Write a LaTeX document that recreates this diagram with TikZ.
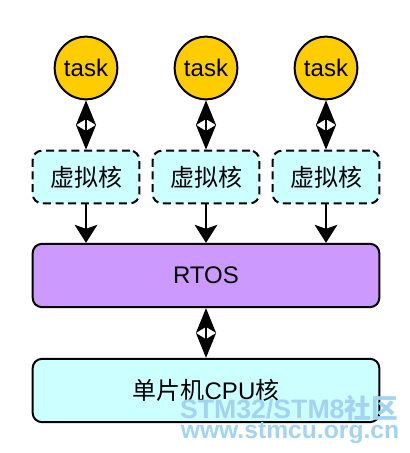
\documentclass[tikz,border=0pt]{standalone}
\usepackage{fontspec}
\setmainfont{Liberation Sans}
\newfontfamily\cjk{Noto Sans CJK SC}
\usetikzlibrary{arrows.meta}

\definecolor{taskyellow}{RGB}{255,204,0}
\definecolor{kernelcyan}{RGB}{204,255,255}
\definecolor{rtoslilac}{RGB}{204,153,255}
\definecolor{markblue}{RGB}{160,212,240}

\begin{document}
\begin{tikzpicture}[x=0.75pt, y=-0.75pt,
					task circle/.style={draw, line width=1.5pt, circle, fill=taskyellow, minimum size=47pt, inner sep=0pt, font=\fontsize{18}{20}\selectfont},
					vk box/.style={draw, line width=1.5pt, dash pattern=on 6pt off 3.5pt, rounded corners=7pt, fill=kernelcyan, minimum width=80pt, minimum height=39.5pt, font=\fontsize{18}{20}\selectfont\cjk},
					layer box/.style={draw, line width=1.5pt, rounded corners=7pt, minimum width=260pt, minimum height=47.5pt, font=\fontsize{18}{20}\selectfont},
					link/.style={line width=1.5pt, -{Stealth[length=13.5pt, width=17pt, inset=3pt]}},
					duplex/.style={line width=1.5pt, {Stealth[length=18.5pt, width=15pt, inset=4.5pt]}-{Stealth[length=18.5pt, width=15pt, inset=4.5pt]}},
					watermark/.style={text=markblue, font=\fontsize{20}{22}\selectfont\bfseries, anchor=base},
				]
					\useasboundingbox (0,0) rectangle (410,453);

					\node[task circle] (task1) at (86,68) {task};
					\node[task circle] (task2) at (206,68) {task};
					\node[task circle] (task3) at (326,68) {task};

					\node[vk box] (vk1) at (86,177) {虚拟核};
					\node[vk box] (vk2) at (206,177) {虚拟核};
					\node[vk box] (vk3) at (326,177) {虚拟核};

					\node[layer box, fill=rtoslilac] (rtos) at (206,275.5) {RTOS};
					\node[layer box, fill=kernelcyan] (cpu) at (206,390.5) {{\cjk 单片机}CPU{\cjk 核}};

					\draw[duplex] (task1) -- (vk1);
					\draw[duplex] (task2) -- (vk2);
					\draw[duplex] (task3) -- (vk3);

					\draw[link] (vk1) -- (vk1 |- rtos.north);
					\draw[link] (vk2) -- (vk2 |- rtos.north);
					\draw[link] (vk3) -- (vk3 |- rtos.north);

					\draw[duplex] (rtos) -- (cpu);

					\node[watermark] (mark1) at (289,418) {STM32/STM8{\cjk 社区}};
					\node[watermark, font=\fontsize{18.5}{20}\selectfont\bfseries] (mark2) at (290,438) {www.stmcu.org.cn};
				\end{tikzpicture}
\end{document}
